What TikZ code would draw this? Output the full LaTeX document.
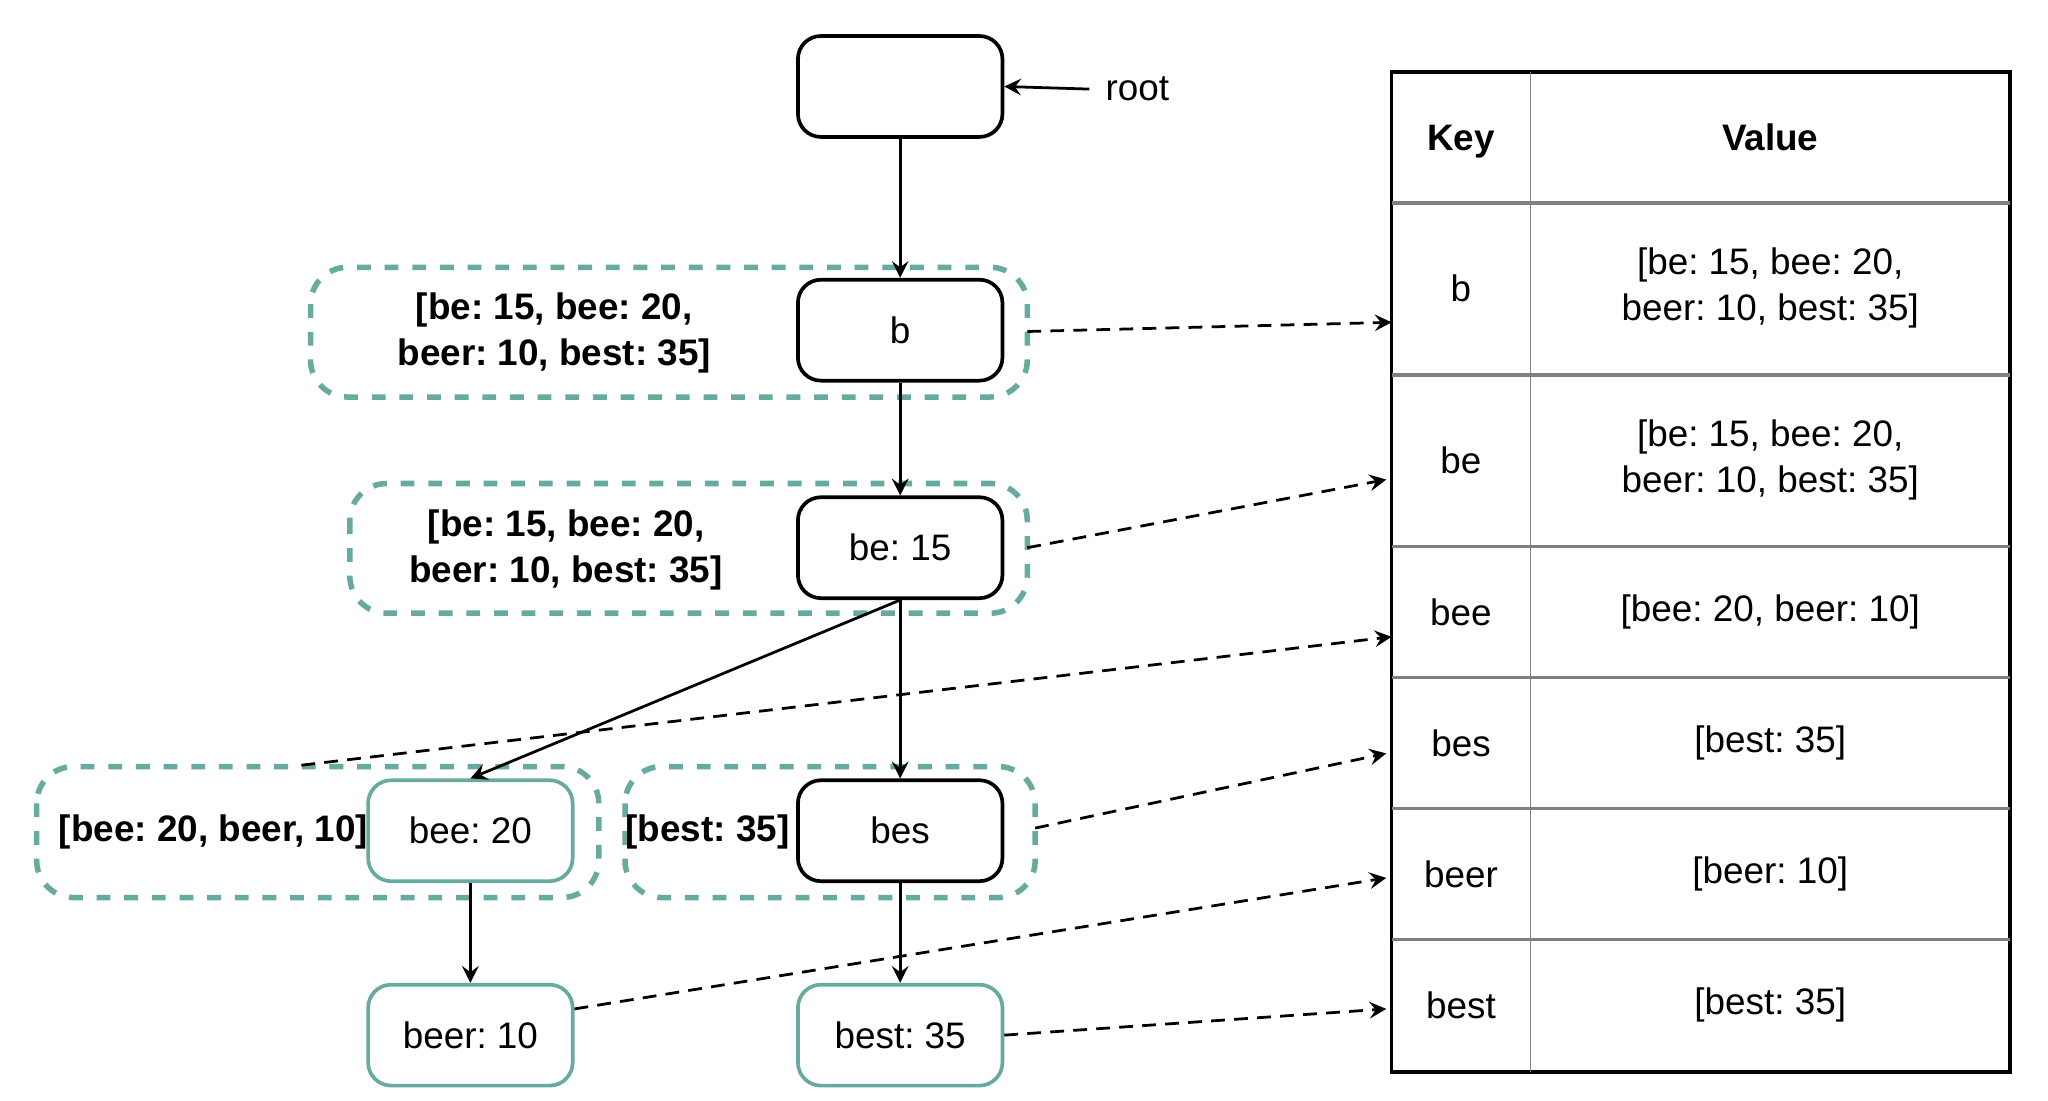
\documentclass[tikz,border=0pt]{standalone}
\usepackage{fontspec}
\setmainfont{Liberation Sans}
\usepackage{xcolor}
\definecolor{grp}{RGB}{103, 171, 159}
\definecolor{grd}{RGB}{128, 128, 128}
\tikzset{
  trie/.style={draw, thick, rounded corners=5pt, minimum width=1.56cm, minimum height=0.77cm, font=\fontsize{8}{10}\selectfont},
  leaf/.style={trie, draw=grp},
  group/.style={draw=grp, very thick, dashed, rounded corners=8pt},
  lbl/.style={font=\bfseries\fontsize{8}{10}\selectfont, align=center},
  cell/.style={font=\fontsize{8}{10}\selectfont, align=center},
  link/.style={-stealth, densely dashed, semithick},
  edge/.style={-stealth, semithick},
}
\begin{document}
\frenchspacing
\begin{tikzpicture}[x=0.01cm, y=-0.01cm]
      \useasboundingbox (0, 0) rectangle (1563, 840);
      % dashed groups
      \draw[group] (237, 204) rectangle (784, 303);
      \draw[group] (267, 369) rectangle (784, 468);
      \draw[group] (28, 585) rectangle (457, 685);
      \draw[group] (477, 585) rectangle (790, 685);
      \coordinate (g1) at (784, 253);
      \coordinate (g2) at (784, 418);
      \coordinate (g3) at (230, 584);
      \coordinate (g4) at (790, 632);
      \node[lbl](l1) at (423, 254) {[be: 15, bee: 20,\\beer: 10, best: 35]};
      \node[lbl](l2) at (432, 420) {[be: 15, bee: 20,\\beer: 10, best: 35]};
      \node[lbl](l3) at (163, 635) {[bee: 20, beer, 10]};
      \node[lbl](l4) at (540, 635) {[best: 35]};
      % trie nodes
      \node[trie](root) at (687, 66) {};
      \node[trie](b) at (687, 252) {b};
      \node[trie](be) at (687, 418) {be: 15};
      \node[leaf](bee) at (359, 634) {bee: 20};
      \node[trie](bes) at (687, 634) {bes};
      \node[leaf](beer) at (359, 790) {beer: 10};
      \node[leaf](best) at (687, 790) {best: 35};
      \node[font=\fontsize{8}{10}\selectfont](rt) at (868, 68) {root};
      \draw[edge] (rt.west) -- (root.east);
      \draw[edge] (root) -- (b);
      \draw[edge] (b) -- (be);
      \draw[edge] (be.south) -- (bee.north);
      \draw[edge] (be) -- (bes);
      \draw[edge] (bee) -- (beer);
      \draw[edge] (bes) -- (best);
      % table
      \draw[thick] (1062, 55) rectangle (1534, 818);
      \draw[grd] (1168, 55) -- (1168, 818);
      \foreach \y in {155, 286, 417, 517, 617, 717}
        \draw[grd, thick] (1062, \y) -- (1534, \y);
      \node[cell, font=\bfseries\fontsize{8}{10}\selectfont, text depth=0pt](kh) at (1115, 105) {Key};
      \node[cell, font=\bfseries\fontsize{8}{10}\selectfont, text depth=0pt](vh) at (1351, 105) {Value};
      \node[cell](k1) at (1115, 220) {b};
      \node[cell](v1) at (1351, 220) {[be: 15, bee: 20,\\beer: 10, best: 35]};
      \node[cell](k2) at (1115, 351) {be};
      \node[cell](v2) at (1351, 351) {[be: 15, bee: 20,\\beer: 10, best: 35]};
      \node[cell](k3) at (1115, 467) {bee};
      \node[cell](v3) at (1351, 467) {[bee: 20, beer: 10]};
      \node[cell](k4) at (1115, 567) {bes};
      \node[cell](v4) at (1351, 567) {[best: 35]};
      \node[cell](k5) at (1115, 667) {beer};
      \node[cell](v5) at (1351, 667) {[beer: 10]};
      \node[cell](k6) at (1115, 767) {best};
      \node[cell](v6) at (1351, 767) {[best: 35]};
      \coordinate (t1) at (1062, 246);
      \coordinate (t2) at (1058, 366);
      \coordinate (t3) at (1062, 486);
      \coordinate (t4) at (1058, 575);
      \coordinate (t5) at (1058, 670);
      \coordinate (t6) at (1058, 770);
      \draw[link] (g1) -- (t1);
      \draw[link] (g2) -- (t2);
      \draw[link] (g3) -- (t3);
      \draw[link] (g4) -- (t4);
      \draw[link] (beer.east |- 0, 770) -- (t5);
      \draw[link] (best.east) -- (t6);
    \end{tikzpicture}
\end{document}
